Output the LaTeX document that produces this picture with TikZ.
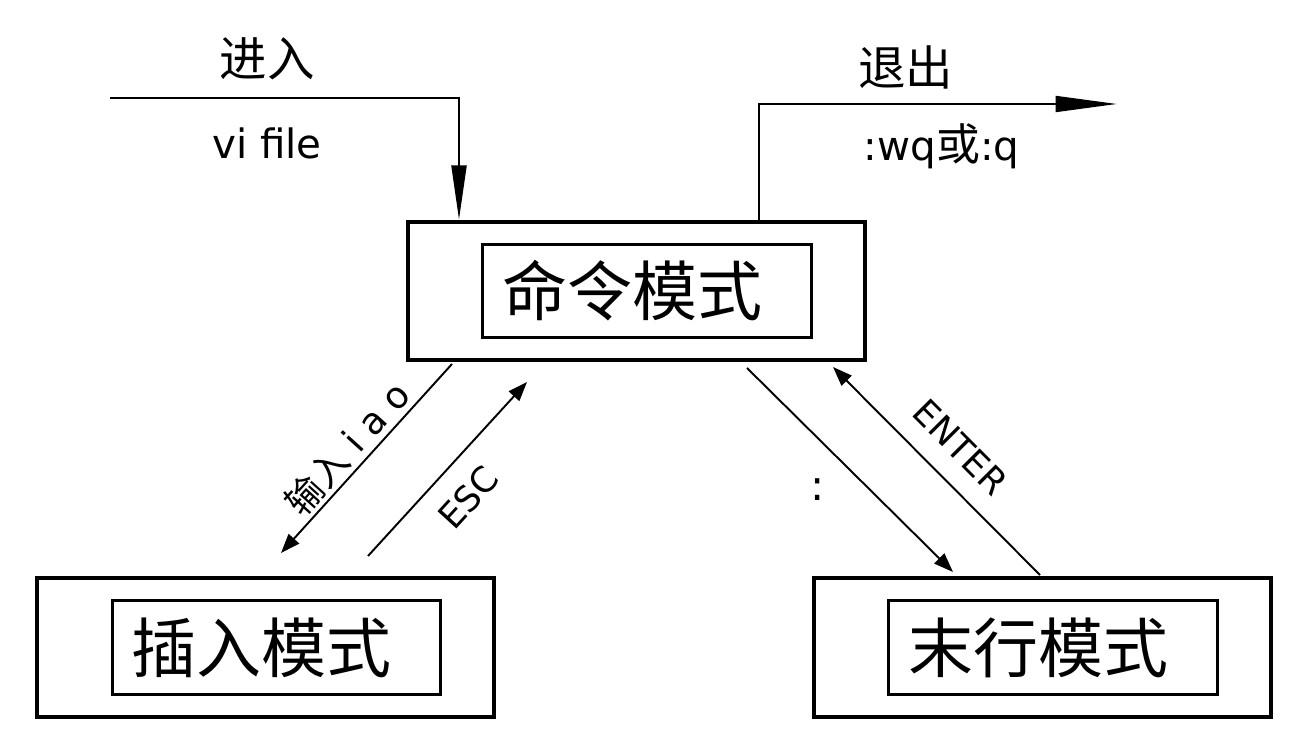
\documentclass[tikz,border=0pt]{standalone}
\usepackage{fontspec}
\setmainfont{DejaVu Sans}
\newfontfamily\cjk{Noto Sans CJK SC}
\usetikzlibrary{arrows.meta}

\begin{document}
\begin{tikzpicture}[
        x=0.02cm, y=-0.02cm,
        outerbox/.style={draw, line width=2.3pt, minimum width=9.14cm, minimum height=2.77cm, inner sep=0pt},
        innerbox/.style={draw, line width=1.9pt, minimum width=6.57cm, minimum height=1.87cm, text width=5.79cm, inner xsep=0.39cm, align=left, font=\cjk\fontsize{37}{40}\selectfont},
        inline/.style={line width=1.4pt, -{Triangle[length=31pt, width=8.5pt]}},
        outline/.style={line width=1.4pt, -{Triangle[length=35pt, width=9pt]}},
        thinarrow/.style={line width=1.1pt, -{Triangle[length=11pt, width=8pt]}},
        toplbl/.style={font=\cjk\fontsize{27}{30}\selectfont},
        latlbl/.style={font=\fontsize{23}{27}\selectfont},
        diaglbl/.style={font=\fontsize{20}{24}\selectfont, sloped, inner sep=0pt}
        ]
        \useasboundingbox (0,0) rectangle (1296,732);

        % Boxes
        \node[outerbox] (cmdout) at (636.5,291) {};
        \node[innerbox] (cmd) at ([xshift=0.21cm]cmdout.center) {命令模式};
        \node[outerbox] (insout) at (265.5,647.5) {};
        \node[innerbox] (ins) at ([xshift=0.22cm]insout.center) {插入模式};
        \node[outerbox] (lastout) at (1042.5,647.5) {};
        \node[innerbox] (last) at ([xshift=0.21cm]lastout.center) {末行模式};

        % Enter and quit
        \coordinate (inA) at (110,98);
        \coordinate (inB) at (459,98);
        \draw[inline] (inA) -- node[pos=0.45, yshift=0.78cm, toplbl] (enterlbl) {进入}
                node[pos=0.45, yshift=-0.9cm, latlbl] (vifile) {vi file} (inB) -- (inB |- cmdout.north);

        \coordinate (outA) at (759,104);
        \coordinate (outB) at (1117,104);
        \draw[outline] (outA |- cmdout.north) -- (outA) -- node[pos=0.41, yshift=0.74cm, toplbl] (quitlbl) {退出}
                node[pos=0.51, yshift=-0.84cm, latlbl] (wqlbl) {:wq{\cjk\fontsize{25}{28}\selectfont 或}:q} (outB);

        % Mode changes
        \coordinate (iaoA) at (452,364);
        \coordinate (iaoB) at (281,553);
        \draw[thinarrow] (iaoA) -- node[pos=0.52, above=2pt, diaglbl, font=\fontsize{21}{24}\selectfont] (iaolbl) {{\cjk 输入} i a o} (iaoB);

        \coordinate (escA) at (368,556);
        \coordinate (escB) at (527,382);
        \draw[thinarrow] (escA) -- node[pos=0.47, below=11.5pt, diaglbl] (esclbl) {ESC} (escB);

        \coordinate (colA) at (747,368);
        \coordinate (colB) at (953,572);
        \draw[thinarrow] (colA) -- node[pos=0.47, xshift=-0.52cm, yshift=-0.52cm, font=\fontsize{24}{28}\selectfont] (collbl) {:} (colB);

        \coordinate (entA) at (1040,575);
        \coordinate (entB) at (833,367);
        \draw[thinarrow] (entA) -- node[pos=0.5, above=11.5pt, diaglbl] (entlbl) {ENTER} (entB);

        \end{tikzpicture}
\end{document}
